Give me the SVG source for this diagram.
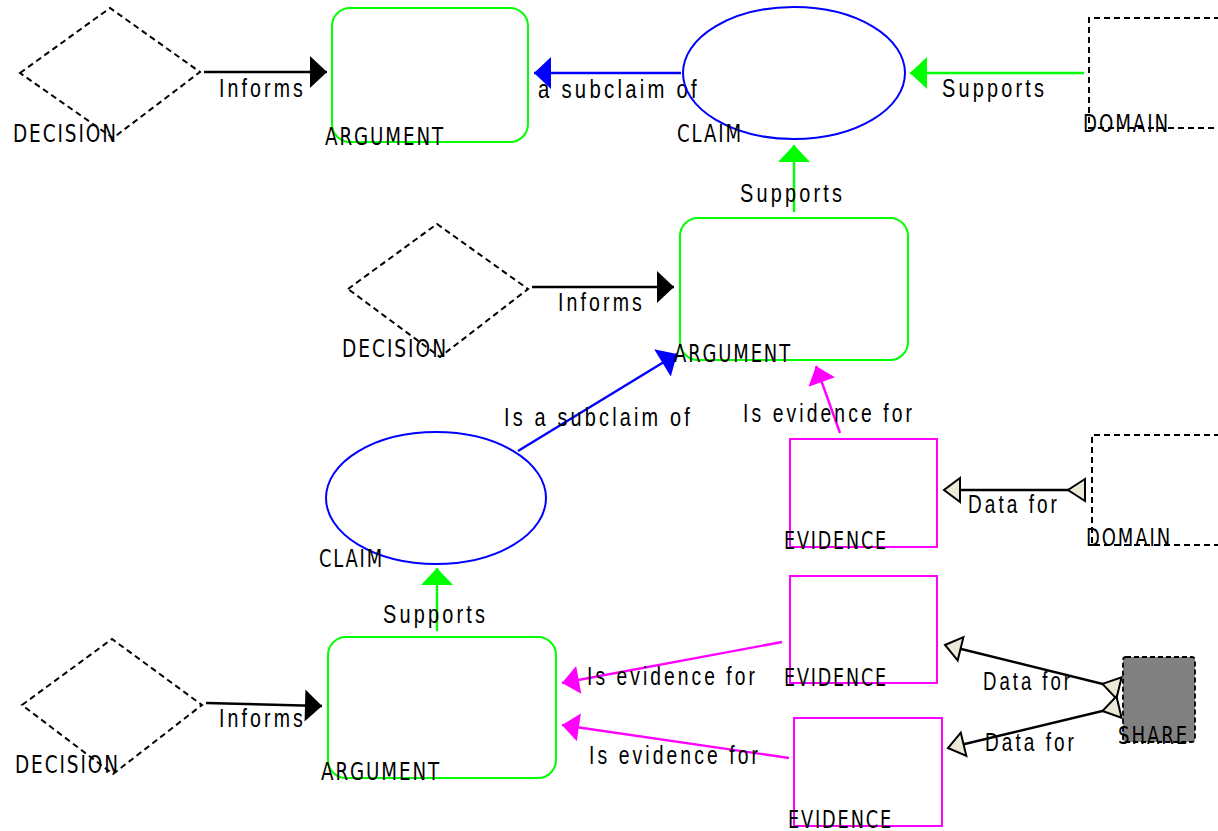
<svg xmlns="http://www.w3.org/2000/svg" width="1218" height="831" viewBox="0 0 1218 831">
  <style>
    .decision { fill: none; stroke: #000; stroke-width: 2; stroke-dasharray: 6 4; }
    .domain { fill: none; stroke: #000; stroke-width: 2; stroke-dasharray: 6 4; }
    .share { fill: #808080; stroke: #000; stroke-width: 1.8; stroke-dasharray: 5 3; }
    .argument { fill: none; stroke: #00ff00; stroke-width: 2; }
    .claim { fill: none; stroke: #0000ff; stroke-width: 2; }
    .evidence { fill: none; stroke: #ff00ff; stroke-width: 2; }
    .node-label { font-family: "DejaVu Sans", sans-serif; font-size: 24px; fill: #000; letter-spacing: 2.5px; }
    .edge-label { font-family: "Liberation Sans", Arial, sans-serif; font-size: 25px; fill: #000; letter-spacing: 4px; }
    .informs { stroke: #000; stroke-width: 2.4; fill: none; marker-end: url(#head-black); }
    .supports { stroke: #00ff00; stroke-width: 2.4; fill: none; marker-end: url(#head-green); }
    .subclaim { stroke: #0000ff; stroke-width: 2.4; fill: none; marker-end: url(#head-blue); }
    .evidence-for { stroke: #ff00ff; stroke-width: 2.4; fill: none; marker-end: url(#head-magenta); }
    .data-for { stroke: #000; stroke-width: 2.4; fill: none; marker-start: url(#tail-data); marker-end: url(#head-data); }
  </style>
  <defs>
    <marker id="head-black" markerUnits="userSpaceOnUse" markerWidth="20" markerHeight="34" viewBox="0 -17 18 34" refX="17" refY="0" orient="auto" overflow="visible">
      <path d="M0,-16 L17,0 L0,16 Z" fill="#000"/>
    </marker>
    <marker id="head-green" markerUnits="userSpaceOnUse" markerWidth="20" markerHeight="34" viewBox="0 -17 18 34" refX="17" refY="0" orient="auto" overflow="visible">
      <path d="M0,-16 L17,0 L0,16 Z" fill="#00ff00"/>
    </marker>
    <marker id="head-blue" markerUnits="userSpaceOnUse" markerWidth="20" markerHeight="34" viewBox="0 -17 18 34" refX="17" refY="0" orient="auto" overflow="visible">
      <path d="M0,-16 L17,0 L0,16 Z" fill="#0000ff"/>
    </marker>
    <marker id="head-magenta" markerUnits="userSpaceOnUse" markerWidth="20" markerHeight="30" viewBox="0 -15 18 30" refX="17" refY="0" orient="auto" overflow="visible">
      <path d="M0,-14 L17,0 L0,14 Z" fill="#ff00ff"/>
    </marker>
    <marker id="head-data" markerUnits="userSpaceOnUse" markerWidth="20" markerHeight="28" viewBox="0 -14 18 28" refX="16" refY="0" orient="auto" overflow="visible">
      <path d="M0,-12 L16,0 L0,12 Z" fill="#ece9d8" stroke="#000" stroke-width="2" stroke-linejoin="miter"/>
    </marker>
    <marker id="tail-data" markerUnits="userSpaceOnUse" markerWidth="20" markerHeight="28" viewBox="0 -14 18 28" refX="0" refY="0" orient="auto" overflow="visible">
      <path d="M0,-11 L17,0 L0,11 Z" fill="#ece9d8" stroke="#000" stroke-width="2" stroke-linejoin="miter"/>
    </marker>
  </defs>

  <rect width="1218" height="831" fill="#fff"/>

  <!-- connectors -->
  <g id="connectors">
    <path class="informs" d="M204,72 L327,72"/>
    <path class="subclaim" d="M681,73 L534,73"/>
    <path class="supports" d="M1084,73 L910,73"/>
    <path class="supports" d="M794,212 L794,145"/>
    <path class="informs" d="M532,287 L674,287"/>
    <path class="subclaim" d="M518,451 L677,354"/>
    <path class="evidence-for" d="M840,433 L816,366"/>
    <path class="data-for" d="M1085,490 L944,490"/>
    <path class="supports" d="M437,631 L437,568"/>
    <path class="informs" d="M206,703 L322,706"/>
    <path class="evidence-for" d="M782,642 L562,683"/>
    <path class="evidence-for" d="M789,758 L562,725"/>
    <path class="data-for" d="M1119,688 L945,645"/>
    <path class="data-for" d="M1119,707 L948,748"/>

    <text class="edge-label" x="219" y="97" textLength="87" lengthAdjust="spacingAndGlyphs">Informs</text>
    <text class="edge-label" x="538" y="98" textLength="162" lengthAdjust="spacingAndGlyphs">a subclaim of</text>
    <text class="edge-label" x="942" y="97" textLength="105" lengthAdjust="spacingAndGlyphs">Supports</text>
    <text class="edge-label" x="740" y="202" textLength="105" lengthAdjust="spacingAndGlyphs">Supports</text>
    <text class="edge-label" x="558" y="311" textLength="87" lengthAdjust="spacingAndGlyphs">Informs</text>
    <text class="edge-label" x="504" y="426" textLength="189" lengthAdjust="spacingAndGlyphs">Is a subclaim of</text>
    <text class="edge-label" x="743" y="422" textLength="172" lengthAdjust="spacingAndGlyphs">Is evidence for</text>
    <text class="edge-label" x="968" y="513" textLength="92" lengthAdjust="spacingAndGlyphs">Data for</text>
    <text class="edge-label" x="383" y="623" textLength="105" lengthAdjust="spacingAndGlyphs">Supports</text>
    <text class="edge-label" x="587" y="685" textLength="171" lengthAdjust="spacingAndGlyphs">Is evidence for</text>
    <text class="edge-label" x="589" y="764" textLength="172" lengthAdjust="spacingAndGlyphs">Is evidence for</text>
    <text class="edge-label" x="983" y="690" textLength="90" lengthAdjust="spacingAndGlyphs">Data for</text>
    <text class="edge-label" x="985" y="751" textLength="92" lengthAdjust="spacingAndGlyphs">Data for</text>
    <text class="edge-label" x="219" y="727" textLength="87" lengthAdjust="spacingAndGlyphs">Informs</text>
  </g>

  <!-- top row -->
  <g id="decision-1">
    <polygon class="decision" points="20,73 110,8 200,72 113,138"/>
    <text class="node-label" x="13" y="142" textLength="105" lengthAdjust="spacingAndGlyphs">DECISION</text>
  </g>
  <g id="argument-1">
    <rect class="argument" x="332" y="8" width="196" height="134" rx="18"/>
    <text class="node-label" x="325" y="145" textLength="120" lengthAdjust="spacingAndGlyphs">ARGUMENT</text>
  </g>
  <g id="claim-1">
    <ellipse class="claim" cx="794" cy="73" rx="111" ry="66"/>
    <text class="node-label" x="677" y="142" textLength="66" lengthAdjust="spacingAndGlyphs">CLAIM</text>
  </g>
  <g id="domain-1">
    <path class="domain" d="M1230,18 L1089,18 L1089,128 L1230,128"/>
    <text class="node-label" x="1083" y="132" textLength="87" lengthAdjust="spacingAndGlyphs">DOMAIN</text>
  </g>

  <!-- middle row -->
  <g id="decision-2">
    <polygon class="decision" points="348,289 437,224 528,289 440,357"/>
    <text class="node-label" x="342" y="357" textLength="106" lengthAdjust="spacingAndGlyphs">DECISION</text>
  </g>
  <g id="argument-2">
    <rect class="argument" x="680" y="218" width="228" height="142" rx="18"/>
    <text class="node-label" x="674" y="362" textLength="118" lengthAdjust="spacingAndGlyphs">ARGUMENT</text>
  </g>
  <g id="claim-2">
    <ellipse class="claim" cx="436" cy="498" rx="110" ry="66"/>
    <text class="node-label" x="319" y="567" textLength="65" lengthAdjust="spacingAndGlyphs">CLAIM</text>
  </g>
  <g id="evidence-1">
    <rect class="evidence" x="790" y="439" width="147" height="108"/>
    <text class="node-label" x="784" y="549" textLength="104" lengthAdjust="spacingAndGlyphs">EVIDENCE</text>
  </g>
  <g id="domain-2">
    <path class="domain" d="M1230,435 L1092,435 L1092,545 L1230,545"/>
    <text class="node-label" x="1086" y="546" textLength="86" lengthAdjust="spacingAndGlyphs">DOMAIN</text>
  </g>

  <!-- bottom row -->
  <g id="decision-3">
    <polygon class="decision" points="22,705 112,639 202,705 113,774"/>
    <text class="node-label" x="15" y="773" textLength="105" lengthAdjust="spacingAndGlyphs">DECISION</text>
  </g>
  <g id="argument-3">
    <rect class="argument" x="328" y="637" width="228" height="141" rx="18"/>
    <text class="node-label" x="321" y="780" textLength="120" lengthAdjust="spacingAndGlyphs">ARGUMENT</text>
  </g>
  <g id="evidence-2">
    <rect class="evidence" x="790" y="576" width="147" height="107"/>
    <text class="node-label" x="784" y="686" textLength="104" lengthAdjust="spacingAndGlyphs">EVIDENCE</text>
  </g>
  <g id="evidence-3">
    <rect class="evidence" x="794" y="718" width="148" height="108"/>
    <text class="node-label" x="788" y="828" textLength="105" lengthAdjust="spacingAndGlyphs">EVIDENCE</text>
  </g>
  <g id="share">
    <rect class="share" x="1123" y="657" width="72" height="85" rx="3"/>
    <text class="node-label" x="1118" y="744" textLength="71" lengthAdjust="spacingAndGlyphs">SHARE</text>
  </g>
</svg>
